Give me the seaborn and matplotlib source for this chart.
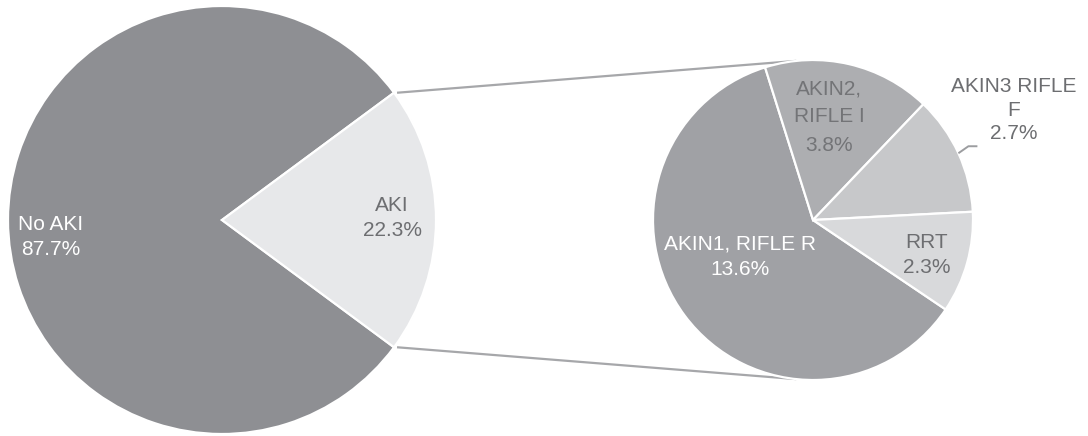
import numpy as np
import matplotlib
matplotlib.use("Agg")
import matplotlib.pyplot as plt
import seaborn as sns

# Overall split
main_labels = ["No AKI", "AKI"]
main_values = [87.7, 22.3]

# Breakdown of the AKI group
sub_labels = ["AKIN1, RIFLE R", "AKIN2,\nRIFLE I", "AKIN3 RIFLE\nF", "RRT"]
sub_values = [13.6, 3.8, 2.7, 2.3]

sns.set_theme(style="white")
plt.rcParams["font.family"] = ["Liberation Sans", "DejaVu Sans"]

W, H = 1088, 436
fig = plt.figure(figsize=(W / 100, H / 100), dpi=100)
ax = fig.add_axes([0, 0, 1, 1])

main_colors = ["#8e8f93", "#e7e8ea"]
sub_colors = ["#a0a1a5", "#adaeb1", "#c7c8ca", "#d8d9db"]
dark_text = "#6d6e71"
wedge_kw = dict(edgecolor="white", linewidth=1.6)

main_center, main_r = (222, 216), 214
sub_center, sub_r = (813, 216), 160

# Left pie: the AKI wedge is centred on the positive x direction
aki_span = 360 * main_values[1] / sum(main_values)
main_wedges, _ = ax.pie(main_values, colors=main_colors, center=main_center,
                        radius=main_r, startangle=aki_span / 2,
                        wedgeprops=wedge_kw)

# Right pie, drawn clockwise
sub_wedges, _ = ax.pie(sub_values, colors=sub_colors, center=sub_center,
                       radius=sub_r, startangle=326, counterclock=False,
                       wedgeprops=wedge_kw)

ax.set_xlim(0, W)
ax.set_ylim(0, H)
ax.set_aspect("equal")
ax.axis("off")

# Connector lines from the AKI wedge to the breakdown pie
aki = main_wedges[1]
line_color = "#a6a7aa"
for theta_main, theta_sub in [(aki.theta2, 96), (aki.theta1, -96)]:
    x0 = main_center[0] + main_r * np.cos(np.radians(theta_main)) + 3
    y0 = main_center[1] + main_r * np.sin(np.radians(theta_main))
    x1 = sub_center[0] + sub_r * np.cos(np.radians(theta_sub))
    y1 = sub_center[1] + sub_r * np.sin(np.radians(theta_sub))
    ax.plot([x0, x1], [y0, y1], color=line_color, lw=1.6,
            solid_capstyle="butt", zorder=0)

fs = 15

# Labels of the left pie
main_pos = [(51, 199), (392, 218)]
main_txt_colors = ["white", dark_text]
for name, val, pos, c in zip(main_labels, main_values, main_pos, main_txt_colors):
    ax.text(*pos, f"{name}\n{val}%", ha="center", va="center",
            fontsize=fs, color=c, linespacing=1.45)

# Labels of the right pie
sub_pos = [(740, 179), (829, 319), (1014, 326), (927, 181)]
sub_txt_colors = ["white", "#737477", dark_text, dark_text]
sub_spacing = [1.45, 1.62, 1.33, 1.45]
for name, val, pos, c, sp in zip(sub_labels, sub_values, sub_pos,
                                 sub_txt_colors, sub_spacing):
    ax.text(*pos, f"{name}\n{val}%", ha="center", va="center",
            fontsize=fs, color=c, linespacing=sp)

# Leader line for the outside label
w3 = sub_wedges[2]
mid = np.radians((w3.theta1 + w3.theta2) / 2)
sx = sub_center[0] + sub_r * np.cos(mid)
sy = sub_center[1] + sub_r * np.sin(mid)
ax.plot([sx, sx + 10, sx + 19], [sy, sy + 7, sy + 7], color="#9c9da0",
        lw=1.4, solid_capstyle="butt")

fig.savefig("out.png", dpi=100, facecolor="white")
